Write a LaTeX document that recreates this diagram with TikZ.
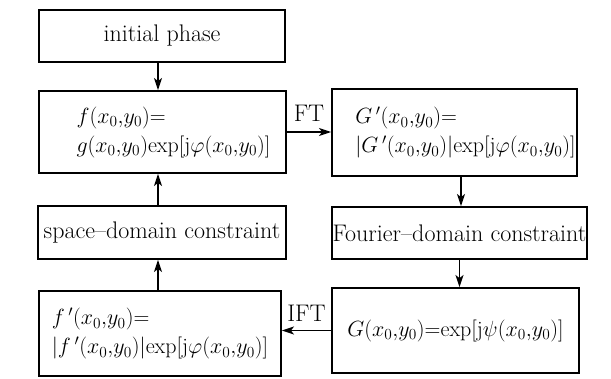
\RequirePackage{fix-cm}
\documentclass[tikz,border=0pt]{standalone}
\usepackage{amsmath}
\usepackage{amssymb}
\usepackage{fontspec}
\usepackage{tikz}
\usetikzlibrary{arrows.meta}
\usetikzlibrary{calc}

\newcommand{\twoline}[3]{\begin{tabular}{@{\hspace*{#1}}l@{}}#2\\#3\end{tabular}}

\tikzset{
  blk/.style={draw, line width=1.9pt, minimum width=#1, inner xsep=1pt, inner ysep=3pt,
    font=\fontsize{24}{29}\selectfont},
  eqblk/.style={blk=#1, font=\fontsize{22}{29}\selectfont},
  flow/.style={-{Stealth[length=12pt,width=8pt,inset=3pt]}, line width=1.6pt},
  lbl/.style={font=\fontsize{24}{26}\selectfont, inner sep=2pt}
}

\begin{document}
\begin{tikzpicture}[x=1pt,y=-1pt]
\useasboundingbox (0,0) rectangle (611,378);
\node[blk=246pt, minimum height=52pt] (init) at (162,36) {initial phase};
\node[eqblk=247pt, minimum height=82pt] (f) at (162.5,132)
  {\twoline{22pt}{$f(x_0{,}y_0){=}$}{$g(x_0{,}y_0)\mathrm{exp}[\mathrm{j}\varphi(x_0{,}y_0)]$}};
\node[blk=248pt, minimum height=53pt] (sp) at (162,232.5) {space--domain constraint};
\node[eqblk=242pt, minimum height=85pt] (fp) at (160,333.5)
  {\twoline{0pt}{$f\,'(x_0{,}y_0){=}$}{$|f\,'(x_0{,}y_0)|\mathrm{exp}[\mathrm{j}\varphi(x_0{,}y_0)]$}};
\node[eqblk=245pt, minimum height=87pt] (Gp) at (454.5,132.5)
  {\twoline{22pt}{$G\,'(x_0{,}y_0){=}$}{$|G\,'(x_0{,}y_0)|\mathrm{exp}[\mathrm{j}\varphi(x_0{,}y_0)]$}};
\node[blk=255pt, minimum height=52pt] (four) at (459.5,233) {Fourier--domain constraint};
\node[eqblk=247pt, minimum height=85pt] (G) at (455.5,330.5)
  {$G(x_0{,}y_0){=}\mathrm{exp}[\mathrm{j}\psi(x_0{,}y_0)]$};
\draw[flow] (init.south) ++(-4,0) coordinate (a1) -- (a1 |- f.north);
\draw[flow] (f.east) -- (f.east -| Gp.west) node[lbl, midway, above=8pt] {FT};
\draw[flow] (Gp.south -| four.north) ++(1.5,0) coordinate (a2) -- (a2 |- four.north);
\draw[flow] (four.south) -- (four.south |- G.north);
\draw[flow] (G.west) -- (G.west -| fp.east) node[lbl, midway, above=6pt] {IFT};
\draw[flow] (fp.north) ++(-2,0) coordinate (a3) -- (a3 |- sp.south);
\draw[flow] (sp.north) ++(-4,0) coordinate (a4) -- (a4 |- f.south);
\end{tikzpicture}
\end{document}
